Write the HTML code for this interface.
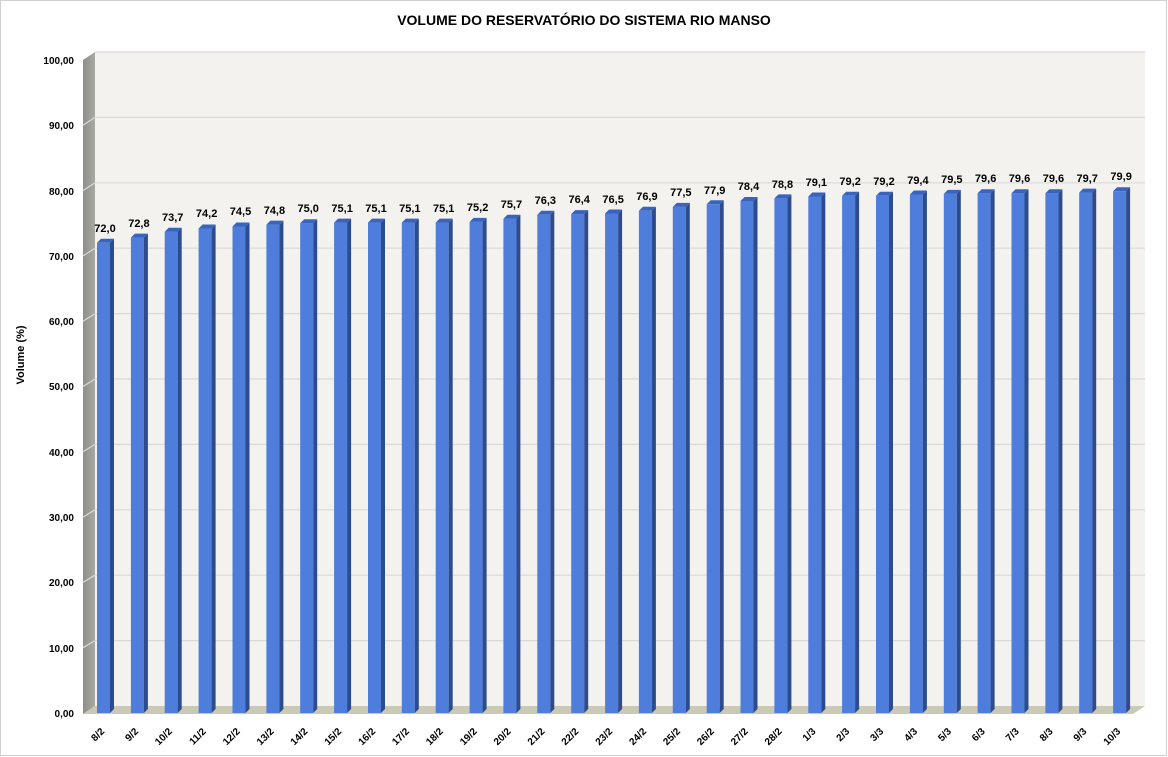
<!DOCTYPE html>
<html><head><meta charset="utf-8"><style>
html,body{margin:0;padding:0;background:#fff}
svg{display:block;font-family:"Liberation Sans",Arial,sans-serif}
.v{font-size:11px;font-weight:bold;text-anchor:middle;fill:#000}
.y{font-size:10px;font-weight:bold;text-anchor:end;fill:#000}
.x{font-size:10px;font-weight:bold;text-anchor:end;fill:#000}
.f{fill:#4e7ddb}.s{fill:#2d4c8e}.t{fill:#3a63bd}
</style></head><body>
<svg width="1168" height="757" viewBox="0 0 1168 757">
<defs><linearGradient id="sw" x1="0" x2="1"><stop offset="0" stop-color="#8f8f89"/><stop offset="1" stop-color="#a9a9a3"/></linearGradient></defs>
<rect x="0.5" y="0.5" width="1166" height="755" fill="#fff" stroke="#d0d0d0"/>
<text x="584" y="25" font-size="14" font-weight="bold" text-anchor="middle">VOLUME DO RESERVATÓRIO DO SISTEMA RIO MANSO</text>
<text transform="translate(24,355) rotate(-90)" font-size="11" font-weight="bold" text-anchor="middle">Volume (%)</text>
<rect x="95" y="52" width="1050" height="654" fill="#f3f2ee"/>
<polygon points="83,60 95,52 95,706 83,714" fill="url(#sw)"/>
<polygon points="83,714 95,706 1145,706 1133,714" fill="#c9c9b6"/>
<g stroke="#d9d9d9" stroke-width="1.2">
<line x1="95" y1="52" x2="1145" y2="52"/><line x1="95" y1="117.4" x2="1145" y2="117.4"/><line x1="95" y1="182.8" x2="1145" y2="182.8"/><line x1="95" y1="248.2" x2="1145" y2="248.2"/><line x1="95" y1="313.6" x2="1145" y2="313.6"/><line x1="95" y1="379" x2="1145" y2="379"/><line x1="95" y1="444.4" x2="1145" y2="444.4"/><line x1="95" y1="509.8" x2="1145" y2="509.8"/><line x1="95" y1="575.2" x2="1145" y2="575.2"/><line x1="95" y1="640.6" x2="1145" y2="640.6"/>
<line x1="83" y1="125.3" x2="95" y2="117.4"/><line x1="83" y1="190.6" x2="95" y2="182.8"/><line x1="83" y1="255.9" x2="95" y2="248.2"/><line x1="83" y1="321.2" x2="95" y2="313.6"/><line x1="83" y1="386.5" x2="95" y2="379"/><line x1="83" y1="451.8" x2="95" y2="444.4"/><line x1="83" y1="517.1" x2="95" y2="509.8"/><line x1="83" y1="582.4" x2="95" y2="575.2"/><line x1="83" y1="647.7" x2="95" y2="640.6"/>
</g>
<g class="y">
<text x="74" y="64">100,00</text><text x="74" y="129">90,00</text><text x="74" y="195">80,00</text><text x="74" y="260">70,00</text><text x="74" y="325">60,00</text><text x="74" y="390">50,00</text><text x="74" y="456">40,00</text><text x="74" y="521">30,00</text><text x="74" y="586">20,00</text><text x="74" y="652">10,00</text><text x="74" y="717">0,00</text>
</g>
<g>
<g transform="translate(97,0)"><rect class="f" x="0" y="242.8" width="13" height="470.2"/><polygon class="s" points="13,242.8 17,238.8 17,709 13,713"/><polygon class="t" points="0,242.8 4,238.8 17,238.8 13,242.8"/><text class="v" x="8" y="232">72,0</text><text class="x" transform="translate(8,732) rotate(-45)">8/2</text></g>
<g transform="translate(130.9,0)"><rect class="f" x="0" y="237.6" width="13" height="475.4"/><polygon class="s" points="13,237.6 17,233.6 17,709 13,713"/><polygon class="t" points="0,237.6 4,233.6 17,233.6 13,237.6"/><text class="v" x="8" y="227">72,8</text><text class="x" transform="translate(8,732) rotate(-45)">9/2</text></g>
<g transform="translate(164.7,0)"><rect class="f" x="0" y="231.7" width="13" height="481.3"/><polygon class="s" points="13,231.7 17,227.7 17,709 13,713"/><polygon class="t" points="0,231.7 4,227.7 17,227.7 13,231.7"/><text class="v" x="8" y="221">73,7</text><text class="x" transform="translate(8,732) rotate(-45)">10/2</text></g>
<g transform="translate(198.6,0)"><rect class="f" x="0" y="228.5" width="13" height="484.5"/><polygon class="s" points="13,228.5 17,224.5 17,709 13,713"/><polygon class="t" points="0,228.5 4,224.5 17,224.5 13,228.5"/><text class="v" x="8" y="217">74,2</text><text class="x" transform="translate(8,732) rotate(-45)">11/2</text></g>
<g transform="translate(232.5,0)"><rect class="f" x="0" y="226.5" width="13" height="486.5"/><polygon class="s" points="13,226.5 17,222.5 17,709 13,713"/><polygon class="t" points="0,226.5 4,222.5 17,222.5 13,226.5"/><text class="v" x="8" y="215">74,5</text><text class="x" transform="translate(8,732) rotate(-45)">12/2</text></g>
<g transform="translate(266.4,0)"><rect class="f" x="0" y="224.6" width="13" height="488.4"/><polygon class="s" points="13,224.6 17,220.6 17,709 13,713"/><polygon class="t" points="0,224.6 4,220.6 17,220.6 13,224.6"/><text class="v" x="8" y="214">74,8</text><text class="x" transform="translate(8,732) rotate(-45)">13/2</text></g>
<g transform="translate(300.2,0)"><rect class="f" x="0" y="223.2" width="13" height="489.8"/><polygon class="s" points="13,223.2 17,219.2 17,709 13,713"/><polygon class="t" points="0,223.2 4,219.2 17,219.2 13,223.2"/><text class="v" x="8" y="212">75,0</text><text class="x" transform="translate(8,732) rotate(-45)">14/2</text></g>
<g transform="translate(334.1,0)"><rect class="f" x="0" y="222.6" width="13" height="490.4"/><polygon class="s" points="13,222.6 17,218.6 17,709 13,713"/><polygon class="t" points="0,222.6 4,218.6 17,218.6 13,222.6"/><text class="v" x="8" y="212">75,1</text><text class="x" transform="translate(8,732) rotate(-45)">15/2</text></g>
<g transform="translate(368,0)"><rect class="f" x="0" y="222.6" width="13" height="490.4"/><polygon class="s" points="13,222.6 17,218.6 17,709 13,713"/><polygon class="t" points="0,222.6 4,218.6 17,218.6 13,222.6"/><text class="v" x="8" y="212">75,1</text><text class="x" transform="translate(8,732) rotate(-45)">16/2</text></g>
<g transform="translate(401.8,0)"><rect class="f" x="0" y="222.6" width="13" height="490.4"/><polygon class="s" points="13,222.6 17,218.6 17,709 13,713"/><polygon class="t" points="0,222.6 4,218.6 17,218.6 13,222.6"/><text class="v" x="8" y="212">75,1</text><text class="x" transform="translate(8,732) rotate(-45)">17/2</text></g>
<g transform="translate(435.7,0)"><rect class="f" x="0" y="222.6" width="13" height="490.4"/><polygon class="s" points="13,222.6 17,218.6 17,709 13,713"/><polygon class="t" points="0,222.6 4,218.6 17,218.6 13,222.6"/><text class="v" x="8" y="212">75,1</text><text class="x" transform="translate(8,732) rotate(-45)">18/2</text></g>
<g transform="translate(469.6,0)"><rect class="f" x="0" y="221.9" width="13" height="491.1"/><polygon class="s" points="13,221.9 17,217.9 17,709 13,713"/><polygon class="t" points="0,221.9 4,217.9 17,217.9 13,221.9"/><text class="v" x="8" y="211">75,2</text><text class="x" transform="translate(8,732) rotate(-45)">19/2</text></g>
<g transform="translate(503.4,0)"><rect class="f" x="0" y="218.7" width="13" height="494.3"/><polygon class="s" points="13,218.7 17,214.7 17,709 13,713"/><polygon class="t" points="0,218.7 4,214.7 17,214.7 13,218.7"/><text class="v" x="8" y="208">75,7</text><text class="x" transform="translate(8,732) rotate(-45)">20/2</text></g>
<g transform="translate(537.3,0)"><rect class="f" x="0" y="214.8" width="13" height="498.2"/><polygon class="s" points="13,214.8 17,210.8 17,709 13,713"/><polygon class="t" points="0,214.8 4,210.8 17,210.8 13,214.8"/><text class="v" x="8" y="204">76,3</text><text class="x" transform="translate(8,732) rotate(-45)">21/2</text></g>
<g transform="translate(571.2,0)"><rect class="f" x="0" y="214.1" width="13" height="498.9"/><polygon class="s" points="13,214.1 17,210.1 17,709 13,713"/><polygon class="t" points="0,214.1 4,210.1 17,210.1 13,214.1"/><text class="v" x="8" y="203">76,4</text><text class="x" transform="translate(8,732) rotate(-45)">22/2</text></g>
<g transform="translate(605.1,0)"><rect class="f" x="0" y="213.5" width="13" height="499.5"/><polygon class="s" points="13,213.5 17,209.5 17,709 13,713"/><polygon class="t" points="0,213.5 4,209.5 17,209.5 13,213.5"/><text class="v" x="8" y="203">76,5</text><text class="x" transform="translate(8,732) rotate(-45)">23/2</text></g>
<g transform="translate(638.9,0)"><rect class="f" x="0" y="210.8" width="13" height="502.2"/><polygon class="s" points="13,210.8 17,206.8 17,709 13,713"/><polygon class="t" points="0,210.8 4,206.8 17,206.8 13,210.8"/><text class="v" x="8" y="200">76,9</text><text class="x" transform="translate(8,732) rotate(-45)">24/2</text></g>
<g transform="translate(672.8,0)"><rect class="f" x="0" y="206.9" width="13" height="506.1"/><polygon class="s" points="13,206.9 17,202.9 17,709 13,713"/><polygon class="t" points="0,206.9 4,202.9 17,202.9 13,206.9"/><text class="v" x="8" y="196">77,5</text><text class="x" transform="translate(8,732) rotate(-45)">25/2</text></g>
<g transform="translate(706.7,0)"><rect class="f" x="0" y="204.3" width="13" height="508.7"/><polygon class="s" points="13,204.3 17,200.3 17,709 13,713"/><polygon class="t" points="0,204.3 4,200.3 17,200.3 13,204.3"/><text class="v" x="8" y="194">77,9</text><text class="x" transform="translate(8,732) rotate(-45)">26/2</text></g>
<g transform="translate(740.5,0)"><rect class="f" x="0" y="201" width="13" height="512"/><polygon class="s" points="13,201 17,197 17,709 13,713"/><polygon class="t" points="0,201 4,197 17,197 13,201"/><text class="v" x="8" y="190">78,4</text><text class="x" transform="translate(8,732) rotate(-45)">27/2</text></g>
<g transform="translate(774.4,0)"><rect class="f" x="0" y="198.4" width="13" height="514.6"/><polygon class="s" points="13,198.4 17,194.4 17,709 13,713"/><polygon class="t" points="0,198.4 4,194.4 17,194.4 13,198.4"/><text class="v" x="8" y="188">78,8</text><text class="x" transform="translate(8,732) rotate(-45)">28/2</text></g>
<g transform="translate(808.3,0)"><rect class="f" x="0" y="196.5" width="13" height="516.5"/><polygon class="s" points="13,196.5 17,192.5 17,709 13,713"/><polygon class="t" points="0,196.5 4,192.5 17,192.5 13,196.5"/><text class="v" x="8" y="186">79,1</text><text class="x" transform="translate(8,732) rotate(-45)">1/3</text></g>
<g transform="translate(842.1,0)"><rect class="f" x="0" y="195.8" width="13" height="517.2"/><polygon class="s" points="13,195.8 17,191.8 17,709 13,713"/><polygon class="t" points="0,195.8 4,191.8 17,191.8 13,195.8"/><text class="v" x="8" y="185">79,2</text><text class="x" transform="translate(8,732) rotate(-45)">2/3</text></g>
<g transform="translate(876,0)"><rect class="f" x="0" y="195.8" width="13" height="517.2"/><polygon class="s" points="13,195.8 17,191.8 17,709 13,713"/><polygon class="t" points="0,195.8 4,191.8 17,191.8 13,195.8"/><text class="v" x="8" y="185">79,2</text><text class="x" transform="translate(8,732) rotate(-45)">3/3</text></g>
<g transform="translate(909.9,0)"><rect class="f" x="0" y="194.5" width="13" height="518.5"/><polygon class="s" points="13,194.5 17,190.5 17,709 13,713"/><polygon class="t" points="0,194.5 4,190.5 17,190.5 13,194.5"/><text class="v" x="8" y="184">79,4</text><text class="x" transform="translate(8,732) rotate(-45)">4/3</text></g>
<g transform="translate(943.8,0)"><rect class="f" x="0" y="193.9" width="13" height="519.1"/><polygon class="s" points="13,193.9 17,189.9 17,709 13,713"/><polygon class="t" points="0,193.9 4,189.9 17,189.9 13,193.9"/><text class="v" x="8" y="183">79,5</text><text class="x" transform="translate(8,732) rotate(-45)">5/3</text></g>
<g transform="translate(977.6,0)"><rect class="f" x="0" y="193.2" width="13" height="519.8"/><polygon class="s" points="13,193.2 17,189.2 17,709 13,713"/><polygon class="t" points="0,193.2 4,189.2 17,189.2 13,193.2"/><text class="v" x="8" y="182">79,6</text><text class="x" transform="translate(8,732) rotate(-45)">6/3</text></g>
<g transform="translate(1011.5,0)"><rect class="f" x="0" y="193.2" width="13" height="519.8"/><polygon class="s" points="13,193.2 17,189.2 17,709 13,713"/><polygon class="t" points="0,193.2 4,189.2 17,189.2 13,193.2"/><text class="v" x="8" y="182">79,6</text><text class="x" transform="translate(8,732) rotate(-45)">7/3</text></g>
<g transform="translate(1045.4,0)"><rect class="f" x="0" y="193.2" width="13" height="519.8"/><polygon class="s" points="13,193.2 17,189.2 17,709 13,713"/><polygon class="t" points="0,193.2 4,189.2 17,189.2 13,193.2"/><text class="v" x="8" y="182">79,6</text><text class="x" transform="translate(8,732) rotate(-45)">8/3</text></g>
<g transform="translate(1079.2,0)"><rect class="f" x="0" y="192.6" width="13" height="520.4"/><polygon class="s" points="13,192.6 17,188.6 17,709 13,713"/><polygon class="t" points="0,192.6 4,188.6 17,188.6 13,192.6"/><text class="v" x="8" y="182">79,7</text><text class="x" transform="translate(8,732) rotate(-45)">9/3</text></g>
<g transform="translate(1113.1,0)"><rect class="f" x="0" y="191.3" width="13" height="521.7"/><polygon class="s" points="13,191.3 17,187.3 17,709 13,713"/><polygon class="t" points="0,191.3 4,187.3 17,187.3 13,191.3"/><text class="v" x="8" y="180">79,9</text><text class="x" transform="translate(8,732) rotate(-45)">10/3</text></g>
</g>
</svg>
</body></html>
